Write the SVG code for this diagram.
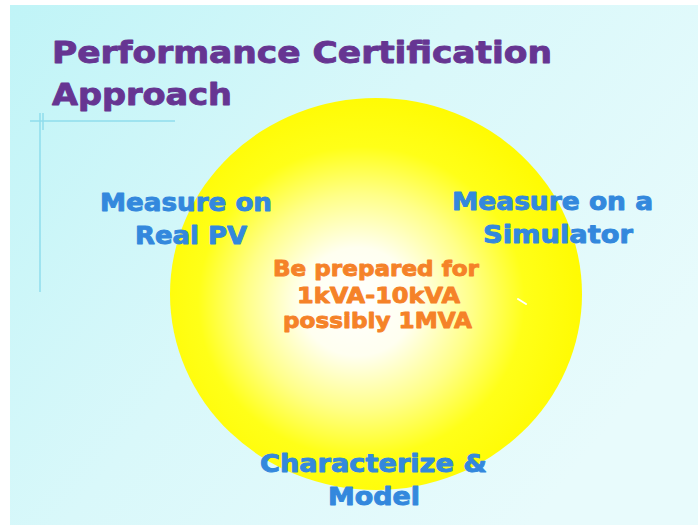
<svg xmlns="http://www.w3.org/2000/svg" width="698" height="527" viewBox="0 0 698 527">
  <defs>
    <linearGradient id="bg" x1="0" y1="0" x2="1" y2="0.6">
      <stop offset="0" stop-color="#C0F4F7"/>
      <stop offset="0.5" stop-color="#D9F8FA"/>
      <stop offset="1" stop-color="#E8FBFC"/>
    </linearGradient>
    <radialGradient id="sun" cx="0.47" cy="0.52" r="0.55" fx="0.45" fy="0.52">
      <stop offset="0" stop-color="#FFFFFF"/>
      <stop offset="0.25" stop-color="#FFFFF0"/>
      <stop offset="0.5" stop-color="#FFFF88"/>
      <stop offset="0.72" stop-color="#FFFF18"/>
      <stop offset="1" stop-color="#FFFA00"/>
    </radialGradient>
    <style>
      text { font-family: "DejaVu Sans", Verdana, sans-serif; font-weight: bold; stroke-width: 0.9px; stroke-linejoin: round; }
      .title { font-size: 30px; fill: #663592; stroke: #663592; }
      .blue { font-size: 24px; fill: #3388DD; stroke: #3388DD; }
      .orange { font-size: 22px; fill: #F58228; stroke: #F58228; }
      .deco { stroke: #8FDCEC; stroke-width: 1.5; fill: none; }
    </style>
  </defs>

  <rect x="0" y="0" width="698" height="527" fill="#FFFFFF"/>
  <rect x="10" y="5" width="688" height="520" fill="url(#bg)"/>

  <g id="decoration">
    <line class="deco" x1="30" y1="121" x2="175" y2="121"/>
    <line class="deco" x1="40" y1="113" x2="40" y2="292"/>
    <line class="deco" x1="43" y1="113" x2="43" y2="130"/>
  </g>

  <g id="title">
    <text class="title" x="52" y="63" textLength="500" lengthAdjust="spacingAndGlyphs">Performance Certification</text>
    <text class="title" x="52" y="105" textLength="180" lengthAdjust="spacingAndGlyphs">Approach</text>
  </g>

  <g id="circle">
    <ellipse cx="376" cy="294" rx="206" ry="196" fill="url(#sun)"/>
    <line x1="518" y1="299" x2="526" y2="304" stroke="#FFFFFF" stroke-width="2" stroke-linecap="round"/>
  </g>

  <g id="center-label">
    <text class="orange" x="273" y="276" textLength="206" lengthAdjust="spacingAndGlyphs">Be prepared for</text>
    <text class="orange" x="297" y="303" textLength="163" lengthAdjust="spacingAndGlyphs">1kVA-10kVA</text>
    <text class="orange" x="283" y="328" textLength="189" lengthAdjust="spacingAndGlyphs">possibly 1MVA</text>
  </g>

  <g id="measure-real-pv">
    <text class="blue" x="100" y="211" textLength="172" lengthAdjust="spacingAndGlyphs">Measure on</text>
    <text class="blue" x="135" y="244" textLength="112" lengthAdjust="spacingAndGlyphs">Real PV</text>
  </g>

  <g id="measure-simulator">
    <text class="blue" x="452" y="210" textLength="201" lengthAdjust="spacingAndGlyphs">Measure on a</text>
    <text class="blue" x="483" y="243" textLength="150" lengthAdjust="spacingAndGlyphs">Simulator</text>
  </g>

  <g id="characterize-model">
    <text class="blue" x="260" y="472" textLength="227" lengthAdjust="spacingAndGlyphs">Characterize &amp;</text>
    <text class="blue" x="328" y="505" textLength="92" lengthAdjust="spacingAndGlyphs">Model</text>
  </g>
</svg>
